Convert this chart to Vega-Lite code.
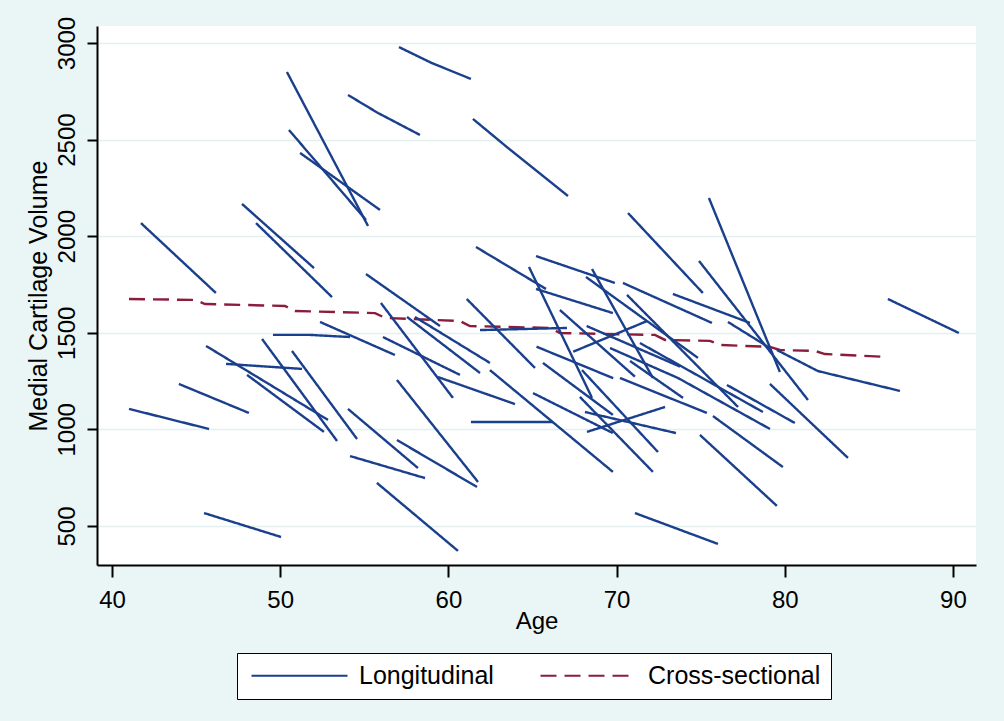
{
  "$schema": "https://vega.github.io/schema/vega-lite/v6.json",
  "width": 879,
  "height": 539,
  "autosize": {"type": "none"},
  "padding": {"left": 97, "top": 26, "right": 28, "bottom": 156},
  "background": "#EAF6F5",
  "config": {
    "view": {"fill": "white", "stroke": null},
    "font": "Liberation Sans",
    "axis": {
      "domainColor": "black", "domainWidth": 2, "tickColor": "black", "tickWidth": 2,
      "labelColor": "black", "titleColor": "black", "labelFontSize": 24, "titleFontSize": 24,
      "titleFontWeight": "normal", "labelFont": "Liberation Sans", "titleFont": "Liberation Sans",
      "gridColor": "#E2F0F0", "gridWidth": 1.5
    }
  },
  "data": {"values": [
    {"id": 0, "type": "Cross-sectional", "age": 41.01, "volume": 1675},
    {"id": 0, "type": "Cross-sectional", "age": 44.93, "volume": 1670},
    {"id": 0, "type": "Cross-sectional", "age": 45.53, "volume": 1649},
    {"id": 0, "type": "Cross-sectional", "age": 50.29, "volume": 1639},
    {"id": 0, "type": "Cross-sectional", "age": 50.88, "volume": 1613},
    {"id": 0, "type": "Cross-sectional", "age": 55.64, "volume": 1602},
    {"id": 0, "type": "Cross-sectional", "age": 56.23, "volume": 1577},
    {"id": 0, "type": "Cross-sectional", "age": 60.69, "volume": 1561},
    {"id": 0, "type": "Cross-sectional", "age": 61.28, "volume": 1535},
    {"id": 0, "type": "Cross-sectional", "age": 66.04, "volume": 1525},
    {"id": 0, "type": "Cross-sectional", "age": 66.63, "volume": 1499},
    {"id": 0, "type": "Cross-sectional", "age": 72.28, "volume": 1489},
    {"id": 0, "type": "Cross-sectional", "age": 72.88, "volume": 1463},
    {"id": 0, "type": "Cross-sectional", "age": 75.55, "volume": 1458},
    {"id": 0, "type": "Cross-sectional", "age": 76.15, "volume": 1437},
    {"id": 0, "type": "Cross-sectional", "age": 79.12, "volume": 1427},
    {"id": 0, "type": "Cross-sectional", "age": 79.71, "volume": 1411},
    {"id": 0, "type": "Cross-sectional", "age": 81.79, "volume": 1406},
    {"id": 0, "type": "Cross-sectional", "age": 82.39, "volume": 1390},
    {"id": 0, "type": "Cross-sectional", "age": 86.02, "volume": 1375},

    {"id": 1, "type": "Longitudinal", "age": 57.06, "volume": 2979},
    {"id": 1, "type": "Longitudinal", "age": 59.02, "volume": 2896},
    {"id": 1, "type": "Longitudinal", "age": 61.34, "volume": 2814},
    {"id": 2, "type": "Longitudinal", "age": 54.03, "volume": 2731},
    {"id": 2, "type": "Longitudinal", "age": 55.81, "volume": 2638},
    {"id": 2, "type": "Longitudinal", "age": 58.31, "volume": 2524},
    {"id": 3, "type": "Longitudinal", "age": 50.40, "volume": 2850},
    {"id": 3, "type": "Longitudinal", "age": 55.22, "volume": 2053},
    {"id": 4, "type": "Longitudinal", "age": 50.52, "volume": 2550},
    {"id": 4, "type": "Longitudinal", "age": 55.10, "volume": 2084},
    {"id": 5, "type": "Longitudinal", "age": 51.18, "volume": 2431},
    {"id": 5, "type": "Longitudinal", "age": 55.93, "volume": 2136},
    {"id": 6, "type": "Longitudinal", "age": 61.46, "volume": 2607},
    {"id": 6, "type": "Longitudinal", "age": 63.54, "volume": 2457},
    {"id": 6, "type": "Longitudinal", "age": 67.11, "volume": 2208},
    {"id": 7, "type": "Longitudinal", "age": 41.72, "volume": 2068},
    {"id": 7, "type": "Longitudinal", "age": 46.18, "volume": 1706},
    {"id": 8, "type": "Longitudinal", "age": 47.73, "volume": 2167},
    {"id": 8, "type": "Longitudinal", "age": 52.01, "volume": 1835},
    {"id": 9, "type": "Longitudinal", "age": 48.56, "volume": 2068},
    {"id": 9, "type": "Longitudinal", "age": 53.08, "volume": 1685},
    {"id": 10, "type": "Longitudinal", "age": 70.68, "volume": 2120},
    {"id": 10, "type": "Longitudinal", "age": 75.13, "volume": 1706},
    {"id": 11, "type": "Longitudinal", "age": 75.49, "volume": 2198},
    {"id": 11, "type": "Longitudinal", "age": 79.71, "volume": 1297},
    {"id": 12, "type": "Longitudinal", "age": 86.13, "volume": 1675},
    {"id": 12, "type": "Longitudinal", "age": 90.35, "volume": 1499},
    {"id": 13, "type": "Longitudinal", "age": 61.64, "volume": 1944},
    {"id": 13, "type": "Longitudinal", "age": 65.80, "volume": 1727},
    {"id": 14, "type": "Longitudinal", "age": 65.21, "volume": 1897},
    {"id": 14, "type": "Longitudinal", "age": 69.90, "volume": 1758},
    {"id": 15, "type": "Longitudinal", "age": 64.79, "volume": 1841},
    {"id": 15, "type": "Longitudinal", "age": 68.54, "volume": 1163},
    {"id": 16, "type": "Longitudinal", "age": 65.21, "volume": 1727},
    {"id": 16, "type": "Longitudinal", "age": 69.78, "volume": 1602},
    {"id": 17, "type": "Longitudinal", "age": 68.54, "volume": 1830},
    {"id": 17, "type": "Longitudinal", "age": 72.16, "volume": 1266},
    {"id": 18, "type": "Longitudinal", "age": 68.18, "volume": 1789},
    {"id": 18, "type": "Longitudinal", "age": 74.84, "volume": 1370},
    {"id": 19, "type": "Longitudinal", "age": 70.38, "volume": 1758},
    {"id": 19, "type": "Longitudinal", "age": 75.67, "volume": 1551},
    {"id": 20, "type": "Longitudinal", "age": 70.62, "volume": 1696},
    {"id": 20, "type": "Longitudinal", "age": 77.22, "volume": 1116},
    {"id": 21, "type": "Longitudinal", "age": 41.01, "volume": 1106},
    {"id": 21, "type": "Longitudinal", "age": 45.77, "volume": 1002},
    {"id": 22, "type": "Longitudinal", "age": 43.98, "volume": 1235},
    {"id": 22, "type": "Longitudinal", "age": 48.14, "volume": 1085},
    {"id": 23, "type": "Longitudinal", "age": 48.03, "volume": 1282},
    {"id": 23, "type": "Longitudinal", "age": 52.60, "volume": 987},
    {"id": 24, "type": "Longitudinal", "age": 45.59, "volume": 1432},
    {"id": 24, "type": "Longitudinal", "age": 52.84, "volume": 1049},
    {"id": 25, "type": "Longitudinal", "age": 46.78, "volume": 1339},
    {"id": 25, "type": "Longitudinal", "age": 51.30, "volume": 1313},
    {"id": 26, "type": "Longitudinal", "age": 48.92, "volume": 1468},
    {"id": 26, "type": "Longitudinal", "age": 53.38, "volume": 940},
    {"id": 27, "type": "Longitudinal", "age": 50.70, "volume": 1406},
    {"id": 27, "type": "Longitudinal", "age": 54.57, "volume": 950},
    {"id": 28, "type": "Longitudinal", "age": 54.03, "volume": 1106},
    {"id": 28, "type": "Longitudinal", "age": 58.19, "volume": 800},
    {"id": 29, "type": "Longitudinal", "age": 54.15, "volume": 862},
    {"id": 29, "type": "Longitudinal", "age": 58.61, "volume": 748},
    {"id": 30, "type": "Longitudinal", "age": 55.75, "volume": 723},
    {"id": 30, "type": "Longitudinal", "age": 60.57, "volume": 371},
    {"id": 31, "type": "Longitudinal", "age": 45.47, "volume": 567},
    {"id": 31, "type": "Longitudinal", "age": 50.05, "volume": 443},
    {"id": 32, "type": "Longitudinal", "age": 56.94, "volume": 1256},
    {"id": 32, "type": "Longitudinal", "age": 61.76, "volume": 728},
    {"id": 33, "type": "Longitudinal", "age": 56.94, "volume": 945},
    {"id": 33, "type": "Longitudinal", "age": 61.70, "volume": 702},
    {"id": 34, "type": "Longitudinal", "age": 55.99, "volume": 1654},
    {"id": 34, "type": "Longitudinal", "age": 60.27, "volume": 1163},
    {"id": 35, "type": "Longitudinal", "age": 55.10, "volume": 1804},
    {"id": 35, "type": "Longitudinal", "age": 59.50, "volume": 1535},
    {"id": 36, "type": "Longitudinal", "age": 49.57, "volume": 1489},
    {"id": 36, "type": "Longitudinal", "age": 51.77, "volume": 1489},
    {"id": 36, "type": "Longitudinal", "age": 54.15, "volume": 1478},
    {"id": 37, "type": "Longitudinal", "age": 52.37, "volume": 1556},
    {"id": 37, "type": "Longitudinal", "age": 56.82, "volume": 1385},
    {"id": 38, "type": "Longitudinal", "age": 56.11, "volume": 1478},
    {"id": 38, "type": "Longitudinal", "age": 60.69, "volume": 1282},
    {"id": 39, "type": "Longitudinal", "age": 58.01, "volume": 1582},
    {"id": 39, "type": "Longitudinal", "age": 62.47, "volume": 1344},
    {"id": 40, "type": "Longitudinal", "age": 57.54, "volume": 1582},
    {"id": 40, "type": "Longitudinal", "age": 61.88, "volume": 1292},
    {"id": 41, "type": "Longitudinal", "age": 59.38, "volume": 1271},
    {"id": 41, "type": "Longitudinal", "age": 63.96, "volume": 1131},
    {"id": 42, "type": "Longitudinal", "age": 61.34, "volume": 1038},
    {"id": 42, "type": "Longitudinal", "age": 66.22, "volume": 1038},
    {"id": 43, "type": "Longitudinal", "age": 62.47, "volume": 1307},
    {"id": 43, "type": "Longitudinal", "age": 69.78, "volume": 780},
    {"id": 44, "type": "Longitudinal", "age": 65.03, "volume": 1188},
    {"id": 44, "type": "Longitudinal", "age": 69.78, "volume": 981},
    {"id": 45, "type": "Longitudinal", "age": 67.82, "volume": 1168},
    {"id": 45, "type": "Longitudinal", "age": 72.16, "volume": 780},
    {"id": 46, "type": "Longitudinal", "age": 67.94, "volume": 1307},
    {"id": 46, "type": "Longitudinal", "age": 72.46, "volume": 883},
    {"id": 47, "type": "Longitudinal", "age": 68.24, "volume": 987},
    {"id": 47, "type": "Longitudinal", "age": 72.88, "volume": 1116},
    {"id": 48, "type": "Longitudinal", "age": 68.12, "volume": 1090},
    {"id": 48, "type": "Longitudinal", "age": 73.53, "volume": 981},
    {"id": 49, "type": "Longitudinal", "age": 71.09, "volume": 567},
    {"id": 49, "type": "Longitudinal", "age": 76.03, "volume": 407},
    {"id": 50, "type": "Longitudinal", "age": 74.96, "volume": 971},
    {"id": 50, "type": "Longitudinal", "age": 79.53, "volume": 604},
    {"id": 51, "type": "Longitudinal", "age": 75.73, "volume": 1069},
    {"id": 51, "type": "Longitudinal", "age": 79.89, "volume": 805},
    {"id": 52, "type": "Longitudinal", "age": 79.12, "volume": 1235},
    {"id": 52, "type": "Longitudinal", "age": 83.76, "volume": 852},
    {"id": 53, "type": "Longitudinal", "age": 79.53, "volume": 1411},
    {"id": 53, "type": "Longitudinal", "age": 81.97, "volume": 1302},
    {"id": 53, "type": "Longitudinal", "age": 86.85, "volume": 1199},
    {"id": 54, "type": "Longitudinal", "age": 74.90, "volume": 1872},
    {"id": 54, "type": "Longitudinal", "age": 81.38, "volume": 1152},
    {"id": 55, "type": "Longitudinal", "age": 73.35, "volume": 1701},
    {"id": 55, "type": "Longitudinal", "age": 77.93, "volume": 1551},
    {"id": 56, "type": "Longitudinal", "age": 76.62, "volume": 1556},
    {"id": 56, "type": "Longitudinal", "age": 79.12, "volume": 1421},
    {"id": 57, "type": "Longitudinal", "age": 71.39, "volume": 1447},
    {"id": 57, "type": "Longitudinal", "age": 78.70, "volume": 1090},
    {"id": 58, "type": "Longitudinal", "age": 69.61, "volume": 1421},
    {"id": 58, "type": "Longitudinal", "age": 73.65, "volume": 1266},
    {"id": 58, "type": "Longitudinal", "age": 79.12, "volume": 1002},
    {"id": 59, "type": "Longitudinal", "age": 76.56, "volume": 1230},
    {"id": 59, "type": "Longitudinal", "age": 80.60, "volume": 1033},
    {"id": 60, "type": "Longitudinal", "age": 70.20, "volume": 1266},
    {"id": 60, "type": "Longitudinal", "age": 75.37, "volume": 1085},
    {"id": 61, "type": "Longitudinal", "age": 61.88, "volume": 1514},
    {"id": 61, "type": "Longitudinal", "age": 67.05, "volume": 1525},
    {"id": 62, "type": "Longitudinal", "age": 61.09, "volume": 1675},
    {"id": 62, "type": "Longitudinal", "age": 65.15, "volume": 1318},
    {"id": 64, "type": "Longitudinal", "age": 66.63, "volume": 1618},
    {"id": 64, "type": "Longitudinal", "age": 71.09, "volume": 1273},
    {"id": 65, "type": "Longitudinal", "age": 68.22, "volume": 1535},
    {"id": 65, "type": "Longitudinal", "age": 73.77, "volume": 1325},
    {"id": 66, "type": "Longitudinal", "age": 67.42, "volume": 1402},
    {"id": 66, "type": "Longitudinal", "age": 71.79, "volume": 1560},
    {"id": 67, "type": "Longitudinal", "age": 65.24, "volume": 1428},
    {"id": 67, "type": "Longitudinal", "age": 69.80, "volume": 1265},
    {"id": 68, "type": "Longitudinal", "age": 65.62, "volume": 1344},
    {"id": 68, "type": "Longitudinal", "age": 69.78, "volume": 1075},
    {"id": 70, "type": "Longitudinal", "age": 70.80, "volume": 1354},
    {"id": 70, "type": "Longitudinal", "age": 73.95, "volume": 1163}
  ]},
  "mark": {"type": "line", "strokeWidth": 2.4, "clip": true},
  "encoding": {
    "x": {
      "field": "age", "type": "quantitative",
      "scale": {"domain": [39.108, 91.37], "nice": false, "zero": false},
      "axis": {"values": [40, 50, 60, 70, 80, 90], "title": "Age", "grid": false, "tickSize": 12, "labelPadding": 11, "titlePadding": -3, "labelFlush": false}
    },
    "y": {
      "field": "volume", "type": "quantitative",
      "scale": {"domain": [298, 3088], "nice": false, "zero": false},
      "axis": {"values": [500, 1000, 1500, 2000, 2500, 3000], "format": "d", "title": "Medial Cartilage Volume", "titleFontSize": 25, "grid": true, "tickSize": 10, "labelAngle": -90, "labelAlign": "center", "labelBaseline": "bottom", "labelPadding": 8, "titlePadding": 4, "labelFlush": false}
    },
    "detail": {"field": "id", "type": "nominal"},
    "color": {
      "field": "type", "type": "nominal",
      "scale": {"domain": ["Longitudinal", "Cross-sectional"], "range": ["#1a3f8c", "#8c1c3c"]},
      "legend": {"title": null, "orient": "none", "legendX": 140, "legendY": 627, "direction": "horizontal", "symbolType": "M-6,0H6", "symbolSize": 256, "symbolStrokeWidth": 2, "symbolOffset": 40, "labelOffset": 47, "labelFontSize": 25, "labelLimit": 400, "labelFont": "Liberation Sans", "labelColor": "black", "columnPadding": 42, "padding": 10, "strokeColor": "black", "fillColor": "white"}
    },
    "strokeDash": {
      "field": "type", "type": "nominal",
      "scale": {"domain": ["Longitudinal", "Cross-sectional"], "range": [[1, 0], [16, 8]]},
      "legend": {"title": null, "orient": "none", "legendX": 140, "legendY": 627, "direction": "horizontal", "symbolType": "M-6,0H6", "symbolSize": 256, "symbolStrokeWidth": 2, "symbolOffset": 40, "labelOffset": 47, "labelFontSize": 25, "labelLimit": 400, "labelFont": "Liberation Sans", "labelColor": "black", "columnPadding": 42, "padding": 10, "strokeColor": "black", "fillColor": "white"}
    }
  }
}
